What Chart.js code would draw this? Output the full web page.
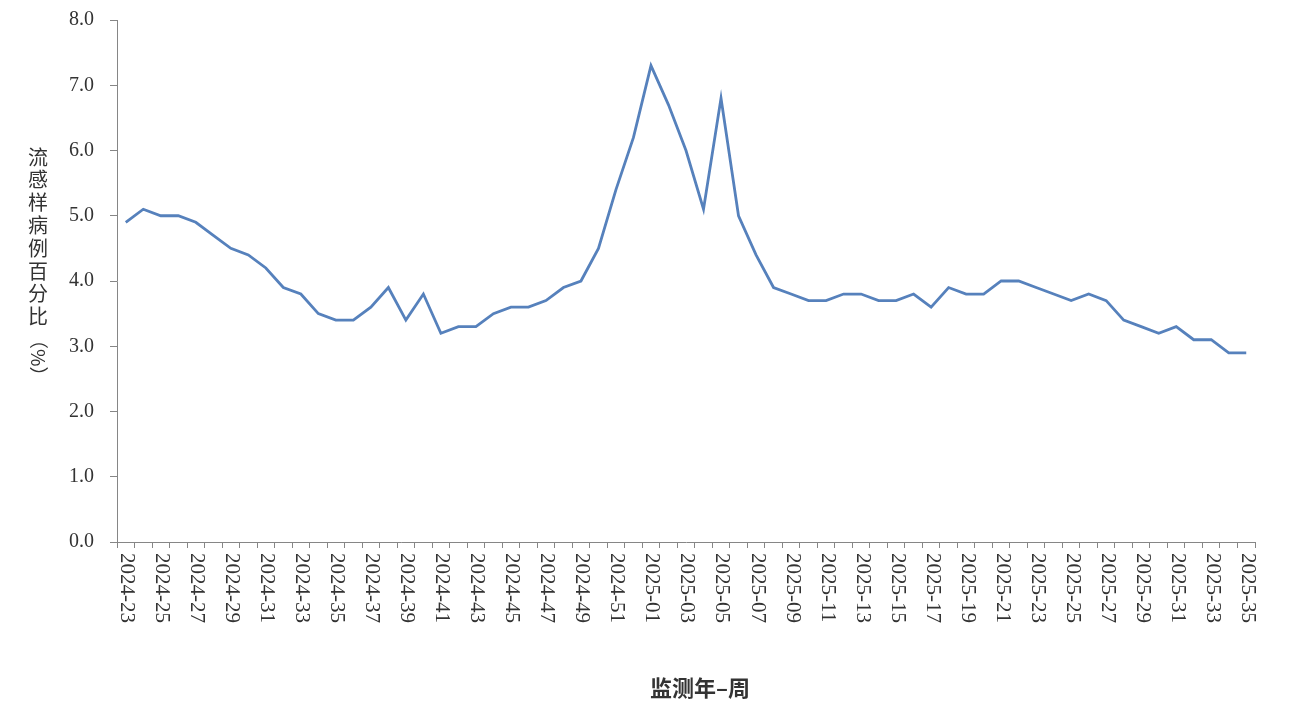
<!DOCTYPE html>
<html>
<head>
<meta charset="utf-8">
<script src="https://cdn.jsdelivr.net/npm/chart.js@4.4.0/dist/chart.umd.min.js"></script>
<style>
    html, body { margin: 0; padding: 0; background: #ffffff; }
</style>
</head>
<body>
<canvas id="fluChart" width="1296" height="712"></canvas>
<script>
// Surveillance weeks (year-week)
const weekLabels = [
    '2024-23', '2024-24', '2024-25', '2024-26', '2024-27', '2024-28', '2024-29', '2024-30',
    '2024-31', '2024-32', '2024-33', '2024-34', '2024-35', '2024-36', '2024-37', '2024-38',
    '2024-39', '2024-40', '2024-41', '2024-42', '2024-43', '2024-44', '2024-45', '2024-46',
    '2024-47', '2024-48', '2024-49', '2024-50', '2024-51', '2024-52',
    '2025-01', '2025-02', '2025-03', '2025-04', '2025-05', '2025-06', '2025-07', '2025-08',
    '2025-09', '2025-10', '2025-11', '2025-12', '2025-13', '2025-14', '2025-15', '2025-16',
    '2025-17', '2025-18', '2025-19', '2025-20', '2025-21', '2025-22', '2025-23', '2025-24',
    '2025-25', '2025-26', '2025-27', '2025-28', '2025-29', '2025-30', '2025-31', '2025-32',
    '2025-33', '2025-34', '2025-35'
];

// ILI percentage per week
const iliPercent = [
    4.9, 5.1, 5.0, 5.0, 4.9, 4.7, 4.5, 4.4,
    4.2, 3.9, 3.8, 3.5, 3.4, 3.4, 3.6, 3.9,
    3.4, 3.8, 3.2, 3.3, 3.3, 3.5, 3.6, 3.6,
    3.7, 3.9, 4.0, 4.5, 5.4, 6.2,
    7.3, 6.7, 6.0, 5.1, 6.8, 5.0, 4.4, 3.9,
    3.8, 3.7, 3.7, 3.8, 3.8, 3.7, 3.7, 3.8,
    3.6, 3.9, 3.8, 3.8, 4.0, 4.0, 3.9, 3.8,
    3.7, 3.8, 3.7, 3.4, 3.3, 3.2, 3.3, 3.1,
    3.1, 2.9, 2.9
];

const yTitleChars = ['流', '感', '样', '病', '例', '百', '分', '比'];
const yTitleUnit = '（%）';
const xTitle = '监测年–周';

const AXIS_COLOR = '#868686';
const TEXT_COLOR = '#333333';
const SERIF = '"Liberation Serif", "Times New Roman", serif';
const CJK = '"Noto Sans CJK SC", sans-serif';

// Draws the rotated week labels and both axis titles
const axisTextPlugin = {
    id: 'axisText',
    afterDraw(chart) {
        const ctx = chart.ctx;
        const xs = chart.scales.x;

        // week labels, every second week, rotated clockwise
        ctx.save();
        ctx.font = '21px ' + SERIF;
        ctx.fillStyle = TEXT_COLOR;
        ctx.textAlign = 'left';
        ctx.textBaseline = 'middle';
        weekLabels.forEach((label, i) => {
            if (i % 2 !== 0) return;
            const x = xs.getPixelForValue(i);
            ctx.save();
            ctx.translate(x + 1, xs.top + 11);
            ctx.rotate(Math.PI / 2);
            ctx.fillText(label, 0, 0);
            ctx.restore();
        });
        ctx.restore();

        // y title, stacked vertically
        ctx.save();
        ctx.font = '20px ' + CJK;
        ctx.fillStyle = TEXT_COLOR;
        ctx.textAlign = 'center';
        ctx.textBaseline = 'middle';
        yTitleChars.forEach((ch, i) => {
            ctx.fillText(ch, 38, 157 + i * 22.8);
        });
        ctx.translate(38, 330);
        ctx.rotate(Math.PI / 2);
        ctx.textAlign = 'left';
        ctx.font = '19px ' + CJK;
        ctx.fillText(yTitleUnit, 0, 0);
        ctx.restore();

        // x title
        ctx.save();
        ctx.font = 'bold 22px ' + CJK;
        ctx.fillStyle = TEXT_COLOR;
        ctx.textAlign = 'center';
        ctx.textBaseline = 'middle';
        ctx.fillText(xTitle, 700, 688);
        ctx.restore();
    }
};

const ctx = document.getElementById('fluChart').getContext('2d');

new Chart(ctx, {
    type: 'line',
    data: {
        labels: weekLabels,
        datasets: [{
            label: '流感样病例百分比',
            data: iliPercent,
            borderColor: '#5681BC',
            borderWidth: 2.8,
            pointRadius: 0,
            pointHoverRadius: 0,
            tension: 0,
            fill: false
        }]
    },
    options: {
        responsive: false,
        animation: false,
        layout: {
            padding: { left: 0, top: 20, right: 41, bottom: 0 }
        },
        plugins: {
            legend: { display: false },
            tooltip: { enabled: false }
        },
        scales: {
            x: {
                type: 'category',
                offset: true,
                grid: {
                    offset: true,
                    drawOnChartArea: false,
                    drawTicks: true,
                    tickLength: 6,
                    color: AXIS_COLOR
                },
                border: { display: true, color: AXIS_COLOR, width: 1 },
                ticks: { display: false },
                afterFit(scale) {
                    scale.height = 170;
                    scale.paddingLeft = 0;
                    scale.paddingRight = 0;
                }
            },
            y: {
                min: 0,
                max: 8,
                grid: {
                    drawOnChartArea: false,
                    drawTicks: true,
                    tickLength: 7,
                    color: AXIS_COLOR
                },
                border: { display: true, color: AXIS_COLOR, width: 1 },
                ticks: {
                    stepSize: 1,
                    padding: 16,
                    color: TEXT_COLOR,
                    font: { family: SERIF, size: 20 },
                    callback: function(value) {
                        return value.toFixed(1);
                    }
                },
                afterFit(scale) {
                    scale.width = 117;
                    scale.paddingTop = 0;
                    scale.paddingBottom = 0;
                }
            }
        }
    },
    plugins: [axisTextPlugin]
});
</script>
</body>
</html>
